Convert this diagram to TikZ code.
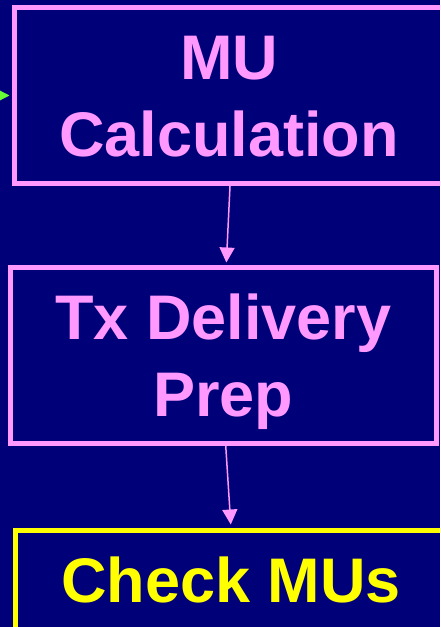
\documentclass[tikz,border=0pt]{standalone}
\usepackage{fontspec}
\setsansfont{Liberation Sans}
\usetikzlibrary{arrows.meta}

\definecolor{navy}{RGB}{0,0,120}
\definecolor{pinkline}{RGB}{255,153,255}
\definecolor{checkyellow}{RGB}{255,255,0}
\definecolor{feedgreen}{RGB}{102,255,51}

\tikzset{
  stage/.style={draw=pinkline, text=pinkline, line width=5pt, inner sep=0pt,
    minimum height=176pt, text height=123pt, text depth=2pt, align=center,
    font=\sffamily\bfseries\fontsize{63}{77}\selectfont},
  flow/.style={draw=pinkline, line width=1.5pt, -{Triangle[width=15pt,length=15pt]}}
}

\begin{document}
\begin{tikzpicture}[x=1pt, y=-1pt, font=\sffamily]
      \path[use as bounding box, fill=navy] (0,0) rectangle (440,627);
      \clip (0,0) rectangle (440,627);

      \node[stage, minimum width=429pt] (mucalc) at (229, 95.5) {MU\\Calculation};
      \node[stage, minimum width=425.5pt] (txprep) at (223.25, 355.5) {Tx Delivery\\Prep};
      % single line, so the last baseline is the first one
      \node[stage, minimum width=431pt, text height=46pt, text depth=79pt,
            draw=checkyellow, text=checkyellow] (checkmu) at (231, 618.5) {Check MUs};

      \coordinate (feed) at (-30, 95.5);

      \draw [line width=1.5pt, feedgreen, -{Triangle[width=12pt,length=12pt]}, shorten >=2.5pt] (feed) -- (mucalc.west);
      \draw [flow, shorten >=2.5pt] ([xshift=1pt]mucalc.south) -- ([xshift=3pt]txprep.north);
      \draw [flow, shorten >=3.5pt] ([xshift=2.5pt]txprep.south) -- (checkmu.north);
   \end{tikzpicture}
\end{document}
